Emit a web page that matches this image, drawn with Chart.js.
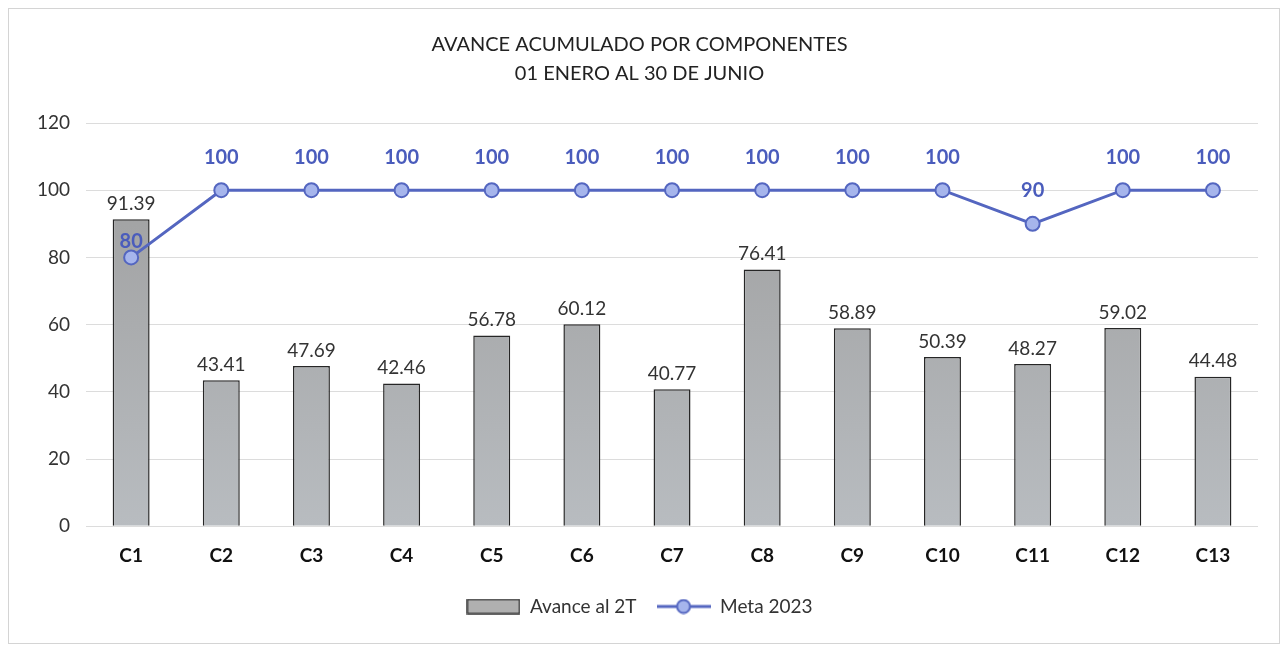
<!DOCTYPE html>
<html>
<head>
<meta charset="utf-8">
<script src="https://cdn.jsdelivr.net/npm/chart.js@4.4.0/dist/chart.umd.min.js"></script>
<style>
  html, body { margin: 0; padding: 0; background: #fff; }
  #wrap {
    position: absolute; left: 8px; top: 8px;
    width: 1270px; height: 634px;
    border: 1px solid #d4d4d4;
  }
</style>
</head>
<body>
<div id="wrap"><canvas id="chart"></canvas></div>
<script>
const categories = ['C1', 'C2', 'C3', 'C4', 'C5', 'C6', 'C7', 'C8', 'C9', 'C10', 'C11', 'C12', 'C13'];
const avance = [91.39, 43.41, 47.69, 42.46, 56.78, 60.12, 40.77, 76.41, 58.89, 50.39, 48.27, 59.02, 44.48];
const meta = [80, 100, 100, 100, 100, 100, 100, 100, 100, 100, 90, 100, 100];
const yTicks = [0, 20, 40, 60, 80, 100, 120];

const FONT = 'Lato, "Open Sans", sans-serif';
const lineColor = '#5466c0';
const pointFill = '#a6b5ec';

// legend swatches
function swatch(kind) {
  const c = document.createElement('canvas');
  c.width = 54; c.height = 16;
  const g = c.getContext('2d');
  if (kind === 'bar') {
    g.fillStyle = '#b0b0b0';
    g.fillRect(1, 1, 52, 14);
    g.strokeStyle = '#333';
    g.lineWidth = 1.5;
    g.strokeRect(1, 1, 52, 14);
  } else {
    g.strokeStyle = lineColor;
    g.lineWidth = 3;
    g.beginPath(); g.moveTo(0, 8); g.lineTo(54, 8); g.stroke();
    g.beginPath(); g.arc(27, 8, 6.5, 0, Math.PI * 2);
    g.fillStyle = pointFill; g.fill();
    g.lineWidth = 2; g.stroke();
  }
  return c;
}
const swatches = { bar: swatch('bar'), line: swatch('line') };

const labelPlugin = {
  id: 'valueLabels',
  afterDatasetsDraw(chart) {
    const ctx = chart.ctx;
    ctx.save();
    ctx.textAlign = 'center';
    ctx.textBaseline = 'bottom';
    // bar values (dataset 1)
    chart.getDatasetMeta(1).data.forEach((el, i) => {
      ctx.font = '19px ' + FONT;
      ctx.fillStyle = '#333';
      ctx.fillText(avance[i].toFixed(2), el.x, el.y - 6);
    });
    // meta values (dataset 0)
    chart.getDatasetMeta(0).data.forEach((el, i) => {
      ctx.font = 'bold 20px ' + FONT;
      ctx.fillStyle = '#4a5cbc';
      const off = i === 0 ? 6 : 23;
      ctx.fillText(String(meta[i]), el.x, el.y - off);
    });
    ctx.restore();
  }
};

new Chart(document.getElementById('chart'), {
  data: {
    labels: categories,
    datasets: [
      {
        type: 'line',
        label: 'Meta 2023',
        data: meta,
        borderColor: lineColor,
        borderWidth: 3,
        pointRadius: 7,
        pointBackgroundColor: pointFill,
        pointBorderColor: lineColor,
        pointBorderWidth: 2,
        tension: 0,
        order: 1
      },
      {
        type: 'bar',
        label: 'Avance al 2T',
        data: avance,
        backgroundColor: (c) => {
          const area = c.chart.chartArea;
          if (!area) return '#aaa';
          const g = c.chart.ctx.createLinearGradient(0, area.top, 0, area.bottom);
          g.addColorStop(0, '#9c9c9c');
          g.addColorStop(1, '#b8bcc0');
          return g;
        },
        borderColor: '#262626',
        borderWidth: 1.5,
        categoryPercentage: 1,
        barPercentage: 0.41,
        order: 2
      }
    ]
  },
  options: {
    responsive: true,
    maintainAspectRatio: false,
    animation: false,
    layout: { padding: { left: 12, right: 21, top: 14, bottom: 17 } },
    plugins: {
      title: {
        display: true,
        text: ['AVANCE ACUMULADO POR COMPONENTES', '01 ENERO AL 30 DE JUNIO'],
        color: '#222',
        font: { family: FONT, size: 20, weight: 'normal', lineHeight: 1.45 },
        padding: { top: 7, bottom: 35 }
      },
      legend: {
        position: 'bottom',
        labels: {
          usePointStyle: true,
          pointStyleWidth: 54,
          boxHeight: 16,
          color: '#333',
          padding: 20,
          font: { family: FONT, size: 19 },
          generateLabels: (chart) => chart.data.datasets.map((ds, i) => ({
            text: ds.label,
            datasetIndex: i,
            pointStyle: i === 0 ? swatches.line : swatches.bar,
            fontColor: '#333',
            hidden: false,
            lineWidth: 0
          })).reverse()
        }
      },
      tooltip: { enabled: false }
    },
    scales: {
      x: {
        grid: { display: false },
        border: { display: false },
        ticks: {
          color: '#111',
          padding: 10,
          font: { family: FONT, size: 19, weight: 'bold' }
        }
      },
      y: {
        min: 0,
        max: 120,
        afterBuildTicks: (axis) => { axis.ticks = yTicks.map(v => ({ value: v })); },
        grid: { color: '#dcdcdc', lineWidth: 1, drawTicks: false },
        border: { display: false },
        ticks: {
          color: '#333',
          padding: 16,
          font: { family: FONT, size: 19 }
        }
      }
    }
  },
  plugins: [labelPlugin]
});
</script>
</body>
</html>
